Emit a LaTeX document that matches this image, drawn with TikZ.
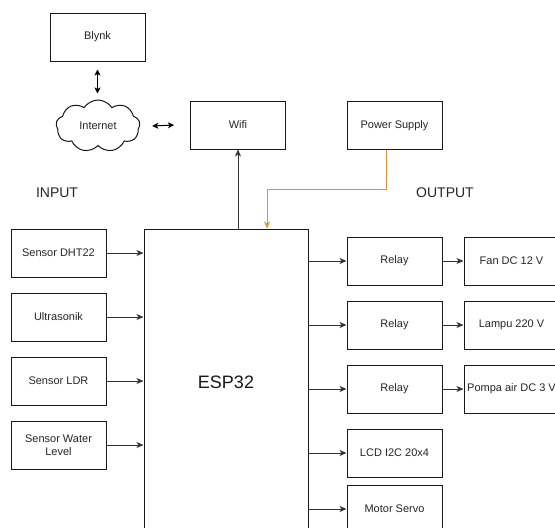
\documentclass[tikz,border=0pt]{standalone}
\usepackage{fontspec}
\setmainfont{Liberation Sans}
\usetikzlibrary{arrows.meta,shapes.symbols,calc}
\definecolor{edge}{HTML}{333333}
\definecolor{pwr}{HTML}{E0923F}
\begin{document}
\begin{tikzpicture}[x=1pt,y=-1pt,
  box/.style={draw=black!90,line width=1pt,minimum width=95pt,minimum height=48pt,inner sep=1pt,font=\fontsize{11}{13}\selectfont,align=center,text=black!85},
  arr/.style={draw=edge,line width=1pt,-{Stealth[length=7pt,width=6pt,inset=2pt]}},
  darr/.style={draw=black,line width=1pt,{Stealth[length=6pt,width=6pt,inset=1.5pt]}-{Stealth[length=6pt,width=6pt,inset=1.5pt]}},
  lbl/.style={font=\fontsize{14}{16}\selectfont,text=black!85}]
\useasboundingbox (0,0) rectangle (555,528);
\clip (0,0) rectangle (555,528);
\fill[white] (0,0) rectangle (555,528);
% top
\node[box] (blynk) at (97.5,37) {Blynk};
\node[cloud,draw=black!90,line width=1pt,cloud puffs=9,cloud puff arc=115,aspect=1.7,minimum width=84pt,minimum height=52pt,inner sep=0pt,font=\fontsize{11}{13}\selectfont,text=black!85] (inet) at (98,126) {Internet};
\node[box] (wifi) at (238,125) {Wifi};
\node[box] (ps) at (394.5,125.5) {Power Supply};
\node[lbl] (in) at (57,193) {INPUT};
\node[lbl] (out) at (445,193) {OUTPUT};
% main
\node[draw=black!90,line width=1pt,minimum width=164pt,minimum height=306pt,inner sep=0pt,font=\fontsize{18}{20}\selectfont,text=black!90] (esp) at (226,382) {ESP32};
% inputs
\node[box] (dht) at (58.5,253) {Sensor DHT22};
\node[box] (us) at (58.5,317) {Ultrasonik};
\node[box] (ldr) at (58.5,381) {Sensor LDR};
\node[box] (wl) at (58.5,445) {Sensor Water\\Level};
% outputs
\node[box] (r1) at (394.5,261) {Relay};
\node[box] (r2) at (394.5,325) {Relay};
\node[box] (r3) at (394.5,389) {Relay};
\node[box] (lcd) at (394.5,453) {LCD I2C 20x4};
\node[box] (servo) at (394.5,509) {Motor Servo};
\node[box] (fan) at (511.5,261) {Fan DC 12 V};
\node[box] (lamp) at (511.5,325) {Lampu 220 V};
\node[box] (pump) at (511.5,389) {Pompa air DC 3 V};
% connectors
\draw[darr,shorten <=8pt,shorten >=6pt] (blynk.south) -- (blynk.south |- inet.north);
\draw[darr] ($(inet.east)+(12,0)$) -- ($(wifi.west)+(-16,0)$);
\draw[arr] (wifi.south |- esp.north) -- (wifi.south);
\coordinate (pb) at (267,189);
\draw[draw=pwr,line width=1pt,-{Stealth[length=7pt,width=6pt,inset=2pt]}] ([xshift=-8pt]ps.south) |- (pb) -- (pb |- esp.north);
\foreach \s in {dht,us,ldr,wl}{\draw[arr] (\s.east) -- (\s.east -| esp.west);}
\foreach \s in {r1,r2,r3,lcd,servo}{\draw[arr] (esp.east |- \s.west) -- (\s.west);}
\draw[arr] (r1.east) -- (fan.west);
\draw[arr] (r2.east) -- (lamp.west);
\draw[arr] (r3.east) -- (pump.west);
\end{tikzpicture}
\end{document}
